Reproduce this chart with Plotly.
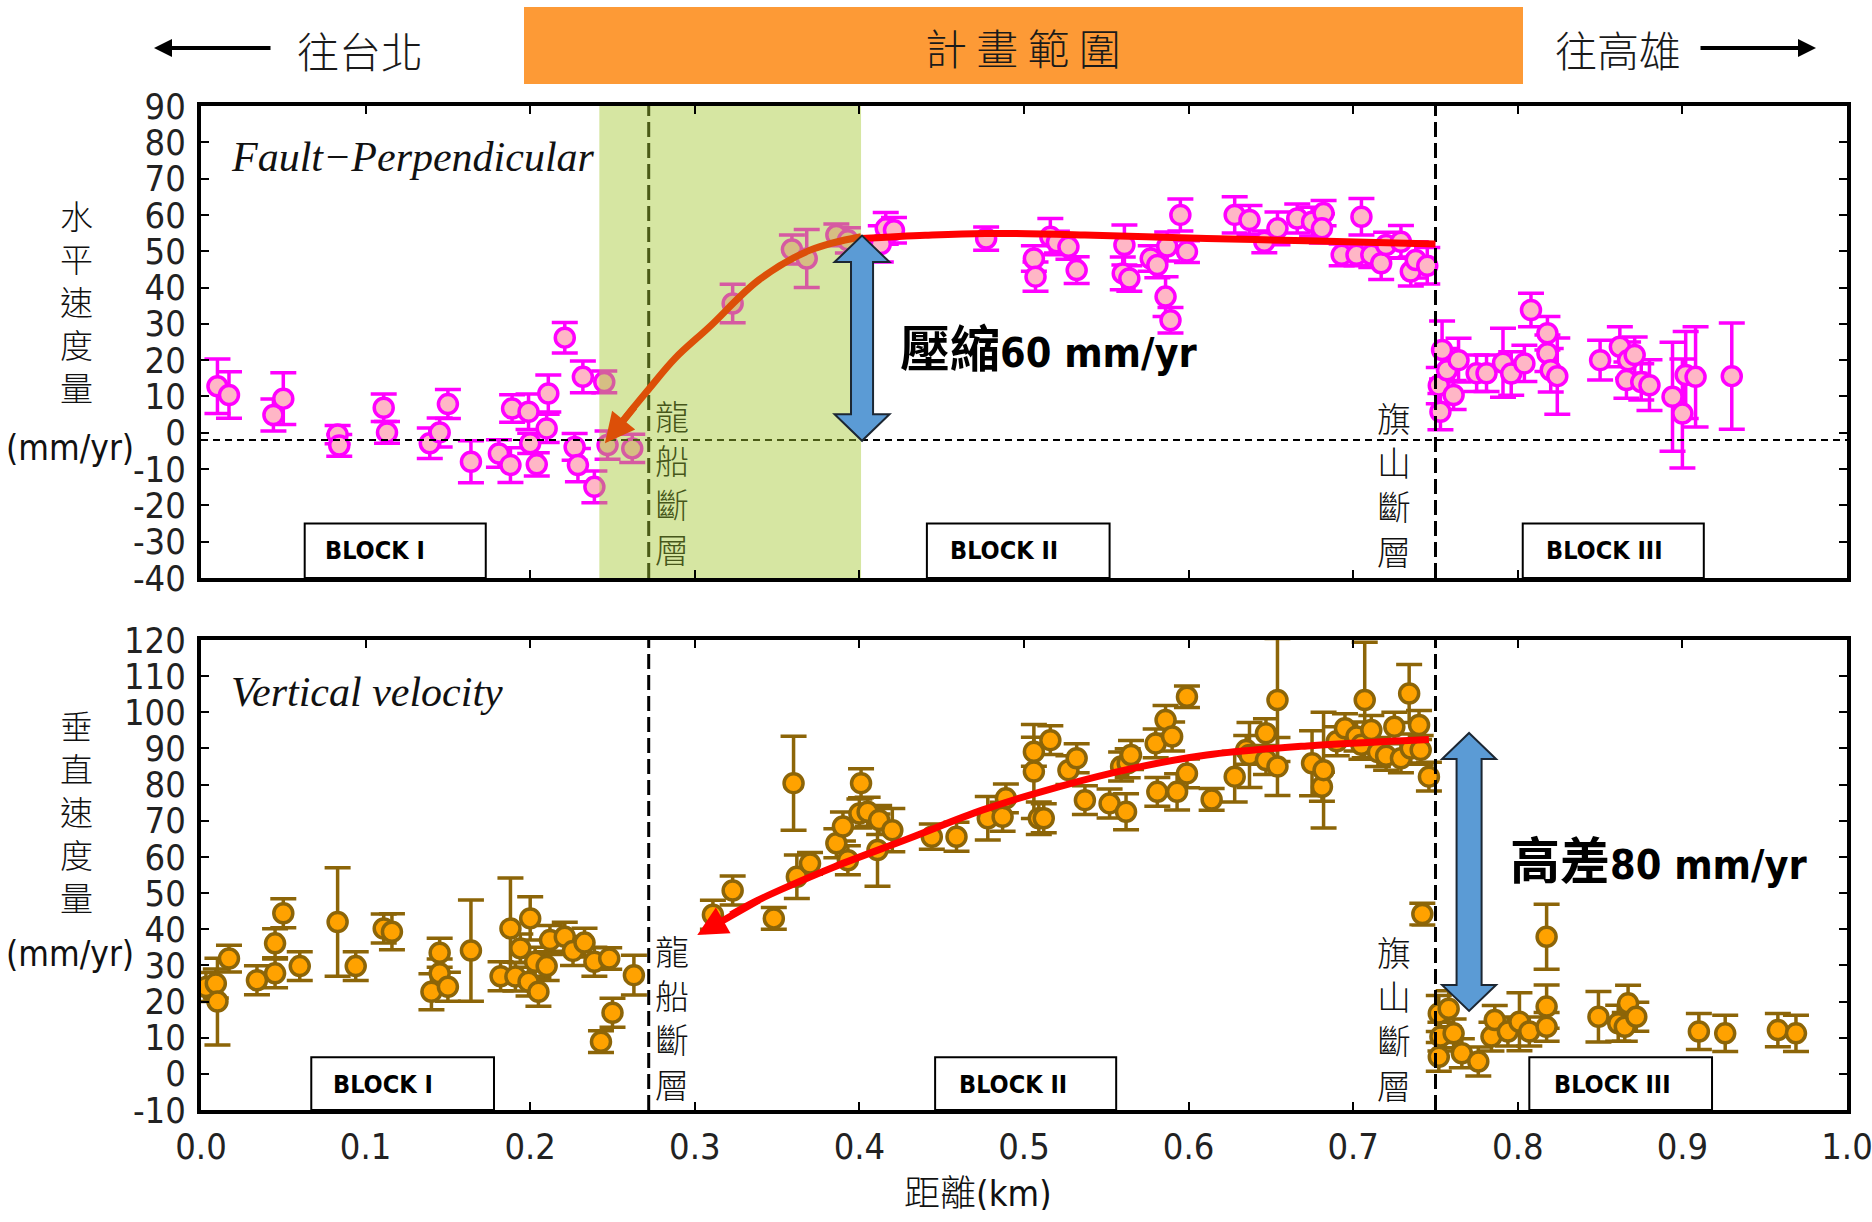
import plotly.graph_objects as go

W, H = 1872, 1222

# ---------------- data: fault-perpendicular (horizontal) velocity ----------------
H_DIST = [0.010, 0.017, 0.044, 0.050, 0.083, 0.084, 0.111, 0.113, 0.139, 0.145,
          0.150, 0.164, 0.181, 0.189, 0.188, 0.199, 0.200, 0.204, 0.211, 0.210,
          0.221, 0.227, 0.229, 0.232, 0.239, 0.245, 0.247, 0.262,
          0.323, 0.359, 0.368, 0.386, 0.393, 0.413, 0.416, 0.421, 0.477, 0.506,
          0.507, 0.516, 0.520, 0.527, 0.532, 0.561, 0.560, 0.564, 0.577, 0.581,
          0.586, 0.589, 0.587, 0.595, 0.599, 0.628, 0.637, 0.646, 0.654, 0.666,
          0.675, 0.682, 0.681, 0.693, 0.702, 0.705, 0.711, 0.717, 0.720, 0.729,
          0.735, 0.738, 0.745,
          0.752, 0.753, 0.754, 0.757, 0.761, 0.764, 0.775, 0.781, 0.791, 0.796,
          0.804, 0.808, 0.818, 0.818, 0.820, 0.824, 0.850, 0.862, 0.866, 0.867,
          0.871, 0.875, 0.880, 0.894, 0.900, 0.902, 0.908, 0.930]
H_VEL = [12.8, 10.4, 4.9, 9.4, -0.5, -3.5, 6.9, 0.1, -2.9, 0.1,
         7.9, -8.0, -5.7, 6.7, -8.9, 5.8, -2.9, -8.7, 10.8, 1.2,
         26.2, -3.9, -8.9, 15.4, -14.9, 14.0, -3.4, -4.3,
         35.6, 50.5, 48.0, 54.5, 53.0, 52.0, 56.3, 55.8, 53.5, 48.0,
         43.0, 54.0, 52.5, 51.2, 44.8, 51.7, 43.9, 42.5, 48.0, 46.2,
         37.5, 31.0, 51.3, 60.0, 49.9, 60.0, 58.6, 52.6, 56.3, 59.0,
         58.1, 60.5, 56.3, 49.0, 49.0, 59.5, 49.0, 46.7, 51.7, 52.6,
         44.4, 47.6, 46.0,
         13.0, 5.8, 22.8, 17.2, 10.4, 20.0, 16.4, 16.4, 19.3, 16.3,
         19.1, 33.8, 27.4, 21.9, 17.2, 15.6, 20.0, 23.7, 14.5, 20.0,
         21.4, 14.0, 13.1, 9.9, 5.3, 15.9, 15.4, 15.6]
H_ERR = [7.5, 6.4, 4.4, 7.1, 2.5, 3.0, 3.8, 3.0, 4.2, 4.0,
         4.0, 5.8, 3.8, 3.8, 4.8, 4.9, 2.8, 3.2, 5.1, 3.9,
         4.2, 3.7, 4.6, 4.4, 4.4, 3.0, 3.9, 3.9,
         5.3, 4.0, 8.0, 3.0, 3.5, 5.0, 4.4, 3.5, 3.2, 3.5,
         4.0, 5.0, 3.0, 3.4, 3.7, 5.5, 4.5, 3.5, 3.5, 3.5,
         5.5, 3.5, 4.0, 4.4, 3.0, 5.0, 4.0, 3.0, 4.5, 4.0,
         4.0, 3.5, 4.0, 3.0, 3.0, 5.0, 3.5, 4.5, 3.5, 4.5,
         4.0, 5.0, 5.0,
         5.0, 5.0, 8.0, 6.0, 4.0, 6.0, 5.0, 5.0, 9.5, 6.0,
         5.0, 4.6, 4.6, 5.0, 6.0, 10.5, 5.5, 5.5, 5.0, 5.0,
         5.0, 5.0, 7.0, 15.0, 15.0, 12.0, 13.8, 14.6]

# ---------------- data: vertical velocity ----------------
V_DIST = [0.003, 0.009, 0.010, 0.017, 0.034, 0.045, 0.045, 0.050, 0.060, 0.083,
          0.094, 0.111, 0.116, 0.140, 0.145, 0.145, 0.150, 0.164, 0.182, 0.188,
          0.191, 0.194, 0.200, 0.199, 0.203, 0.205, 0.210, 0.212, 0.221, 0.226,
          0.233, 0.239, 0.248, 0.263, 0.250, 0.243,
          0.311, 0.323, 0.348, 0.360, 0.362, 0.370, 0.386, 0.390, 0.393, 0.401,
          0.400, 0.405, 0.411, 0.412, 0.420, 0.444, 0.459, 0.478, 0.487, 0.489,
          0.509, 0.512, 0.506, 0.506, 0.516, 0.527, 0.532, 0.537, 0.552, 0.562,
          0.559, 0.563, 0.565, 0.581, 0.580, 0.586, 0.590, 0.593, 0.599, 0.599,
          0.614, 0.628, 0.635, 0.637, 0.647, 0.647, 0.654, 0.654, 0.675, 0.681,
          0.682, 0.690, 0.695, 0.702, 0.705, 0.707, 0.711, 0.715, 0.720, 0.725,
          0.729, 0.734, 0.735, 0.740, 0.741, 0.742, 0.746,
          0.752, 0.753, 0.752, 0.758, 0.761, 0.766, 0.776, 0.784, 0.786, 0.794,
          0.801, 0.807, 0.8175, 0.8175, 0.8175, 0.849, 0.861, 0.865, 0.867, 0.872,
          0.910, 0.926, 0.958, 0.969]
V_VEL = [24.0, 25.0, 20.0, 31.9, 25.9, 27.8, 36.1, 44.4, 29.8, 42.0,
         29.8, 40.2, 39.3, 22.7, 33.5, 27.8, 24.1, 34.1, 27.0, 40.2,
         26.9, 34.7, 43.0, 25.5, 31.0, 22.7, 29.8, 37.0, 37.9, 34.0,
         36.3, 31.0, 31.9, 27.3, 16.9, 8.9,
         44.0, 50.7, 43.0, 80.4, 54.5, 58.2, 63.8, 68.4, 59.1, 80.4,
         72.0, 72.5, 61.9, 70.2, 67.4, 65.6, 65.6, 70.7, 71.1, 76.2,
         70.7, 70.7, 83.6, 89.1, 92.3, 84.0, 87.3, 75.7, 74.8, 72.5,
         85.0, 85.9, 88.2, 78.0, 91.4, 97.9, 93.3, 78.0, 83.1, 104.3,
         75.9, 82.2, 89.6, 88.2, 94.2, 86.8, 103.4, 85.0, 85.9, 79.4,
         84.0, 92.0, 95.6, 93.3, 91.0, 103.4, 95.1, 89.0, 88.0, 96.0,
         87.3, 105.2, 90.0, 96.5, 89.6, 44.2, 82.2,
         16.7, 10.3, 4.7, 18.0, 11.2, 5.7, 3.4, 10.3, 14.9, 11.7,
         14.4, 11.7, 37.9, 18.6, 13.0, 15.8, 14.0, 13.0, 19.5, 15.8,
         11.7, 11.2, 12.1, 11.2]
V_ERR = [4.0, 4.0, 12.0, 3.7, 4.0, 4.0, 4.0, 4.0, 4.0, 15.0,
         4.0, 4.0, 5.0, 5.0, 4.0, 4.0, 4.0, 14.0, 4.0, 14.0,
         4.0, 4.0, 6.0, 4.0, 4.0, 4.0, 4.0, 4.0, 4.0, 4.0,
         4.0, 4.0, 3.0, 5.5, 4.0, 3.0,
         4.0, 4.0, 3.0, 13.0, 6.0, 3.0, 4.0, 4.0, 4.0, 4.0,
         4.0, 4.0, 10.0, 4.0, 6.0, 3.5, 4.0, 6.0, 4.0, 4.0,
         4.5, 4.0, 13.0, 4.0, 4.0, 4.0, 4.0, 4.0, 4.0, 5.0,
         4.0, 4.0, 4.0, 4.0, 4.0, 4.0, 4.0, 5.0, 4.0, 3.0,
         3.0, 7.0, 4.0, 9.0, 4.0, 4.0, 17.0, 8.0, 9.0, 4.0,
         16.0, 4.0, 4.0, 4.0, 4.0, 16.0, 4.0, 4.0, 4.0, 4.0,
         4.0, 8.0, 4.0, 4.0, 4.0, 3.0, 4.0,
         5.0, 4.0, 4.0, 5.0, 4.0, 4.0, 4.0, 4.0, 4.0, 4.0,
         8.0, 4.0, 9.0, 6.0, 4.0, 7.0, 5.0, 4.0, 5.0, 4.0,
         5.0, 5.0, 4.6, 5.0]

# ---------------- trend curves (hand-drawn in the original) ----------------
H_FIT_X = [0.401, 0.440, 0.4765, 0.537, 0.611, 0.672, 0.750]
H_FIT_Y = [53.5, 54.4, 54.9, 54.5, 53.5, 52.9, 52.0]
H_ARROW_X = [0.401, 0.370, 0.339, 0.309, 0.288, 0.272, 0.262, 0.255]
H_ARROW_Y = [54.0, 50.3, 42.1, 29.2, 20.5, 12.0, 6.5, 2.5]
H_ARROW_TAIL = (0.264, 7.5)
H_ARROW_TIP = (0.2454, -2.9)

V_FIT_X = [0.746, 0.672, 0.611, 0.566, 0.521, 0.475, 0.430, 0.385, 0.354, 0.336, 0.322]
V_FIT_Y = [92.5, 90.7, 88.2, 84.5, 79.4, 73.0, 65.1, 57.3, 51.3, 47.5, 44.0]
V_ARROW_TAIL = (0.340, 48.3)
V_ARROW_TIP = (0.3015, 38.4)

# ---------------- reference lines / regions / ticks ----------------
ZERO_LINE_Y = -2
FAULT_X = [0.272, 0.750]
PROJECT_BAND = [0.242, 0.401]
H_RANGE = [-40, 90]
V_RANGE = [-10, 120]
X_TICKS = [0.0, 0.1, 0.2, 0.3, 0.4, 0.5, 0.6, 0.7, 0.8, 0.9, 1.0]
H_YTICKS = [-40, -30, -20, -10, 0, 10, 20, 30, 40, 50, 60, 70, 80, 90]
V_YTICKS = [-10, 0, 10, 20, 30, 40, 50, 60, 70, 80, 90, 100, 110, 120]

# blocks: (label, x0, x1, text_x)
H_BLOCKS = [("BLOCK I", 0.063, 0.173, 0.074), ("BLOCK II", 0.441, 0.552, 0.454),
            ("BLOCK III", 0.803, 0.913, 0.816)]
V_BLOCKS = [("BLOCK I", 0.067, 0.178, 0.079), ("BLOCK II", 0.446, 0.556, 0.459),
            ("BLOCK III", 0.807, 0.918, 0.821)]
H_BLOCK_TOP = -25.0
V_BLOCK_TOP = 4.6

FAULT1 = "龍船斷層"
FAULT2 = "旗山斷層"
Y1_TITLE = "水平速度量"
Y2_TITLE = "垂直速度量"

# ---------------- styling ----------------
NARROW = "Liberation Sans Narrow, Arial Narrow, DejaVu Sans Condensed, sans-serif"
CJK = "Noto Sans CJK TC, Noto Sans CJK SC, sans-serif"
SERIF = "Liberation Serif, Times New Roman, serif"

PINK_FILL, PINK_LINE = "#ffb6c6", "#ff00ff"
ORANGE_FILL, BROWN = "#ffa200", "#8c6508"

fig = go.Figure()

# --- top panel traces ---
fig.add_trace(go.Scatter(
    x=H_DIST, y=H_VEL, mode="markers", xaxis="x", yaxis="y",
    error_y=dict(type="data", array=H_ERR, color=PINK_LINE, thickness=3.5, width=13),
    marker=dict(size=19, color=PINK_FILL, line=dict(color=PINK_LINE, width=3.5)),
    showlegend=False, hoverinfo="skip"))
fig.add_trace(go.Scatter(x=[0, 1], y=[ZERO_LINE_Y] * 2, mode="lines", xaxis="x", yaxis="y",
                         line=dict(color="black", width=2, dash="7px,5px"),
                         showlegend=False, hoverinfo="skip"))
for fx in FAULT_X:
    fig.add_trace(go.Scatter(x=[fx, fx], y=H_RANGE, mode="lines", xaxis="x", yaxis="y",
                             line=dict(color="black", width=3, dash="15px,6px"),
                             showlegend=False, hoverinfo="skip"))
fig.add_trace(go.Scatter(
    x=[PROJECT_BAND[0], PROJECT_BAND[1], PROJECT_BAND[1], PROJECT_BAND[0], PROJECT_BAND[0]],
    y=[H_RANGE[0], H_RANGE[0], H_RANGE[1], H_RANGE[1], H_RANGE[0]],
    mode="lines", fill="toself", fillcolor="rgba(164,200,49,0.45)",
    line=dict(width=0, color="rgba(0,0,0,0)"), xaxis="x", yaxis="y",
    showlegend=False, hoverinfo="skip"))
fig.add_trace(go.Scatter(x=H_ARROW_X, y=H_ARROW_Y, mode="lines", xaxis="x", yaxis="y",
                         line=dict(color="#dc4f08", width=7, shape="spline"),
                         showlegend=False, hoverinfo="skip"))
fig.add_trace(go.Scatter(x=H_FIT_X, y=H_FIT_Y, mode="lines", xaxis="x", yaxis="y",
                         line=dict(color="#ff0000", width=7, shape="spline"),
                         showlegend=False, hoverinfo="skip"))

# --- bottom panel traces ---
fig.add_trace(go.Scatter(
    x=V_DIST, y=V_VEL, mode="markers", xaxis="x2", yaxis="y2",
    error_y=dict(type="data", array=V_ERR, color=BROWN, thickness=3.5, width=13),
    marker=dict(size=19, color=ORANGE_FILL, line=dict(color=BROWN, width=3.5)),
    showlegend=False, hoverinfo="skip"))
for fx in FAULT_X:
    fig.add_trace(go.Scatter(x=[fx, fx], y=V_RANGE, mode="lines", xaxis="x2", yaxis="y2",
                             line=dict(color="black", width=3, dash="15px,6px"),
                             showlegend=False, hoverinfo="skip"))
fig.add_trace(go.Scatter(x=V_FIT_X, y=V_FIT_Y, mode="lines", xaxis="x2", yaxis="y2",
                         line=dict(color="#ff0000", width=7, shape="spline"),
                         showlegend=False, hoverinfo="skip"))

# ---------------- shapes ----------------
shapes = []
# project range bar
shapes.append(dict(type="rect", xref="paper", yref="paper",
                   x0=524 / W, x1=1523 / W, y0=1 - 84 / H, y1=1 - 7 / H,
                   fillcolor="#fd9a36", line=dict(width=0), layer="above"))


def block_rects(blocks, ybot, ytop, xr, yr):
    out = []
    for _, x0, x1, _ in blocks:
        out.append(dict(type="rect", xref=xr, yref=yr, x0=x0, x1=x1, y0=ybot, y1=ytop,
                        fillcolor="white", line=dict(color="black", width=2), layer="above"))
    return out


shapes += block_rects(H_BLOCKS, H_RANGE[0], H_BLOCK_TOP, "x", "y")
shapes += block_rects(V_BLOCKS, V_RANGE[0], V_BLOCK_TOP, "x2", "y2")


def double_arrow(xc, ytop, ybot, head_h, head_hw, shaft_hw, xr, yr):
    pts = [(xc, ytop), (xc + head_hw, ytop - head_h), (xc + shaft_hw, ytop - head_h),
           (xc + shaft_hw, ybot + head_h), (xc + head_hw, ybot + head_h), (xc, ybot),
           (xc - head_hw, ybot + head_h), (xc - shaft_hw, ybot + head_h),
           (xc - shaft_hw, ytop - head_h), (xc - head_hw, ytop - head_h)]
    path = "M " + " L ".join(f"{px},{py}" for px, py in pts) + " Z"
    return dict(type="path", xref=xr, yref=yr, path=path, fillcolor="#5b9bd5",
                line=dict(color="#1c2733", width=2), layer="above")


shapes.append(double_arrow(0.4016, 54.3, -2.2, 7.3, 0.0167, 0.0067, "x", "y"))
shapes.append(double_arrow(0.7704, 94.3, 17.4, 7.2, 0.0164, 0.0076, "x2", "y2"))

# ---------------- annotations ----------------
ann = []


def txt(x, y, text, font, xref="paper", yref="paper", xanchor="center", **kw):
    d = dict(xref=xref, yref=yref, x=x, y=y, text=text, font=font, showarrow=False,
             xanchor=xanchor, yanchor="middle")
    d.update(kw)
    return d


def vertical(s):
    return "<br>".join(list(s))


# header
ann.append(txt(1023 / W, 1 - 46 / H, "計 畫 範 圍",
               dict(family=CJK, size=42, color="#1a1a1a", weight=300)))
ann.append(txt(360 / W, 1 - 50 / H, "往台北", dict(family=CJK, size=42, color="#1a1a1a", weight=300)))
ann.append(txt(1618 / W, 1 - 48 / H, "往高雄", dict(family=CJK, size=42, color="#1a1a1a", weight=300)))
ann.append(dict(xref="paper", yref="paper", x=154 / W, y=1 - 48 / H, ax=118, ay=0,
                text="", showarrow=True, arrowhead=2, arrowsize=0.9, arrowwidth=4,
                arrowcolor="black"))
ann.append(dict(xref="paper", yref="paper", x=1816 / W, y=1 - 48 / H, ax=-117, ay=0,
                text="", showarrow=True, arrowhead=2, arrowsize=0.9, arrowwidth=4,
                arrowcolor="black"))

# panel titles
ann.append(txt(0.017, 76, "<i>Fault−Perpendicular</i>",
               dict(family=SERIF, size=42, color="#111"), xref="x", yref="y", xanchor="left"))
ann.append(txt(0.017, 105.5, "<i>Vertical velocity</i>",
               dict(family=SERIF, size=42, color="#111"), xref="x2", yref="y2", xanchor="left"))

# magnitude labels (CJK + condensed latin)
LAT = "font-family:Liberation Sans Narrow, DejaVu Sans Condensed, sans-serif;font-size:41px"
ann.append(txt(0.4234, 24.2, f"<b>壓縮<span style='{LAT}'>60 mm/yr</span></b>",
               dict(family=CJK, size=50, color="black"), xref="x", yref="y", xanchor="left"))
ann.append(txt(0.794, 60, f"<b>高差<span style='{LAT}'>80 mm/yr</span></b>",
               dict(family=CJK, size=50, color="black"), xref="x2", yref="y2", xanchor="left"))

# arrowheads of trend arrows
ann.append(dict(xref="x", yref="y", axref="x", ayref="y",
                x=H_ARROW_TIP[0], y=H_ARROW_TIP[1], ax=H_ARROW_TAIL[0], ay=H_ARROW_TAIL[1],
                text="", showarrow=True, arrowhead=2, arrowsize=0.85, arrowwidth=7,
                arrowcolor="#dc4f08"))
ann.append(dict(xref="x2", yref="y2", axref="x2", ayref="y2",
                x=V_ARROW_TIP[0], y=V_ARROW_TIP[1], ax=V_ARROW_TAIL[0], ay=V_ARROW_TAIL[1],
                text="", showarrow=True, arrowhead=2, arrowsize=0.85, arrowwidth=7,
                arrowcolor="#ff0000"))

# block labels
for (lab, _, _, tx) in H_BLOCKS:
    ann.append(txt(tx, -32.5, f"<b>{lab}</b>", dict(family=NARROW, size=25, color="black"),
                   xref="x", yref="y", xanchor="left"))
for (lab, _, _, tx) in V_BLOCKS:
    ann.append(txt(tx, -3.0, f"<b>{lab}</b>", dict(family=NARROW, size=25, color="black"),
                   xref="x2", yref="y2", xanchor="left"))

# fault labels, written vertically (top 龍船 label sits under the green band)
FAULT_FONT = 34
ann.append(txt(0.286, 90 - (482 - 106) / 3.63, vertical(FAULT1),
               dict(family=CJK, size=FAULT_FONT, color="#46561a", weight=300), xref="x", yref="y"))
ann.append(txt(0.725, 90 - (484 - 106) / 3.63, vertical(FAULT2),
               dict(family=CJK, size=FAULT_FONT, color="#111", weight=300), xref="x", yref="y"))
ann.append(txt(0.286, 120 - (1017 - 640) / 3.615, vertical(FAULT1),
               dict(family=CJK, size=FAULT_FONT, color="#111", weight=300), xref="x2", yref="y2",
               bgcolor="white", borderpad=0))
ann.append(txt(0.725, 120 - (1018 - 640) / 3.615, vertical(FAULT2),
               dict(family=CJK, size=FAULT_FONT, color="#111", weight=300), xref="x2", yref="y2",
               bgcolor="white", borderpad=0))

# y axis titles (vertical)
ann.append(txt(76 / W, 1 - 301 / H, vertical(Y1_TITLE),
               dict(family=CJK, size=33, color="#111", weight=300)))
ann.append(txt(76 / W, 1 - 811 / H, vertical(Y2_TITLE),
               dict(family=CJK, size=33, color="#111", weight=300)))
ann.append(txt(70 / W, 1 - 448 / H, "(mm/yr)", dict(family=NARROW, size=35, color="#111")))
ann.append(txt(70 / W, 1 - 954 / H, "(mm/yr)", dict(family=NARROW, size=35, color="#111")))
# x axis title
ann.append(txt(978 / W, 1 - 1190 / H,
               "距離<span style='font-family:Liberation Sans Narrow, DejaVu Sans Condensed, sans-serif'>(km)</span>",
               dict(family=CJK, size=36, color="#111", weight=300), height=40))

# ---------------- axes ----------------
XDOM = [201 / W, 1847 / W]
tickfont = dict(family=NARROW, size=36, color="#222")
common_x = dict(range=[0, 1], domain=XDOM, tickvals=X_TICKS, ticks="inside", ticklen=8,
                tickwidth=2, tickcolor="black", showline=True, linewidth=4, linecolor="black",
                mirror="allticks", showgrid=False, zeroline=False, fixedrange=True,
                automargin=False, ticklabeloverflow="allow")
common_y = dict(ticks="inside", ticklen=8, tickwidth=2, tickcolor="black",
                showline=True, linewidth=4, linecolor="black", mirror="allticks",
                showgrid=False, zeroline=False, tickfont=tickfont, ticklabelstandoff=4,
                fixedrange=True, automargin=False)

fig.update_layout(
    width=W, height=H, autosize=False,
    margin=dict(l=0, r=0, t=0, b=0, pad=0, autoexpand=False),
    paper_bgcolor="white", plot_bgcolor="white",
    showlegend=False,
    xaxis=dict(common_x, anchor="y", showticklabels=False),
    yaxis=dict(common_y, range=H_RANGE, tickvals=H_YTICKS,
               ticktext=[str(v) for v in H_YTICKS],
               domain=[1 - 578 / H, 1 - 106 / H], anchor="x"),
    xaxis2=dict(common_x, anchor="y2", showticklabels=True, tickformat=".1f",
                tickfont=tickfont, ticklabelstandoff=2),
    yaxis2=dict(common_y, range=V_RANGE, tickvals=V_YTICKS,
                ticktext=[str(v) for v in V_YTICKS],
                domain=[1 - 1110 / H, 1 - 640 / H], anchor="x2"),
    shapes=shapes,
    annotations=ann,
)

fig.write_html("out.html", config={"displayModeBar": False},
               post_script="document.body.style.margin='0';document.body.style.overflow='hidden';")
